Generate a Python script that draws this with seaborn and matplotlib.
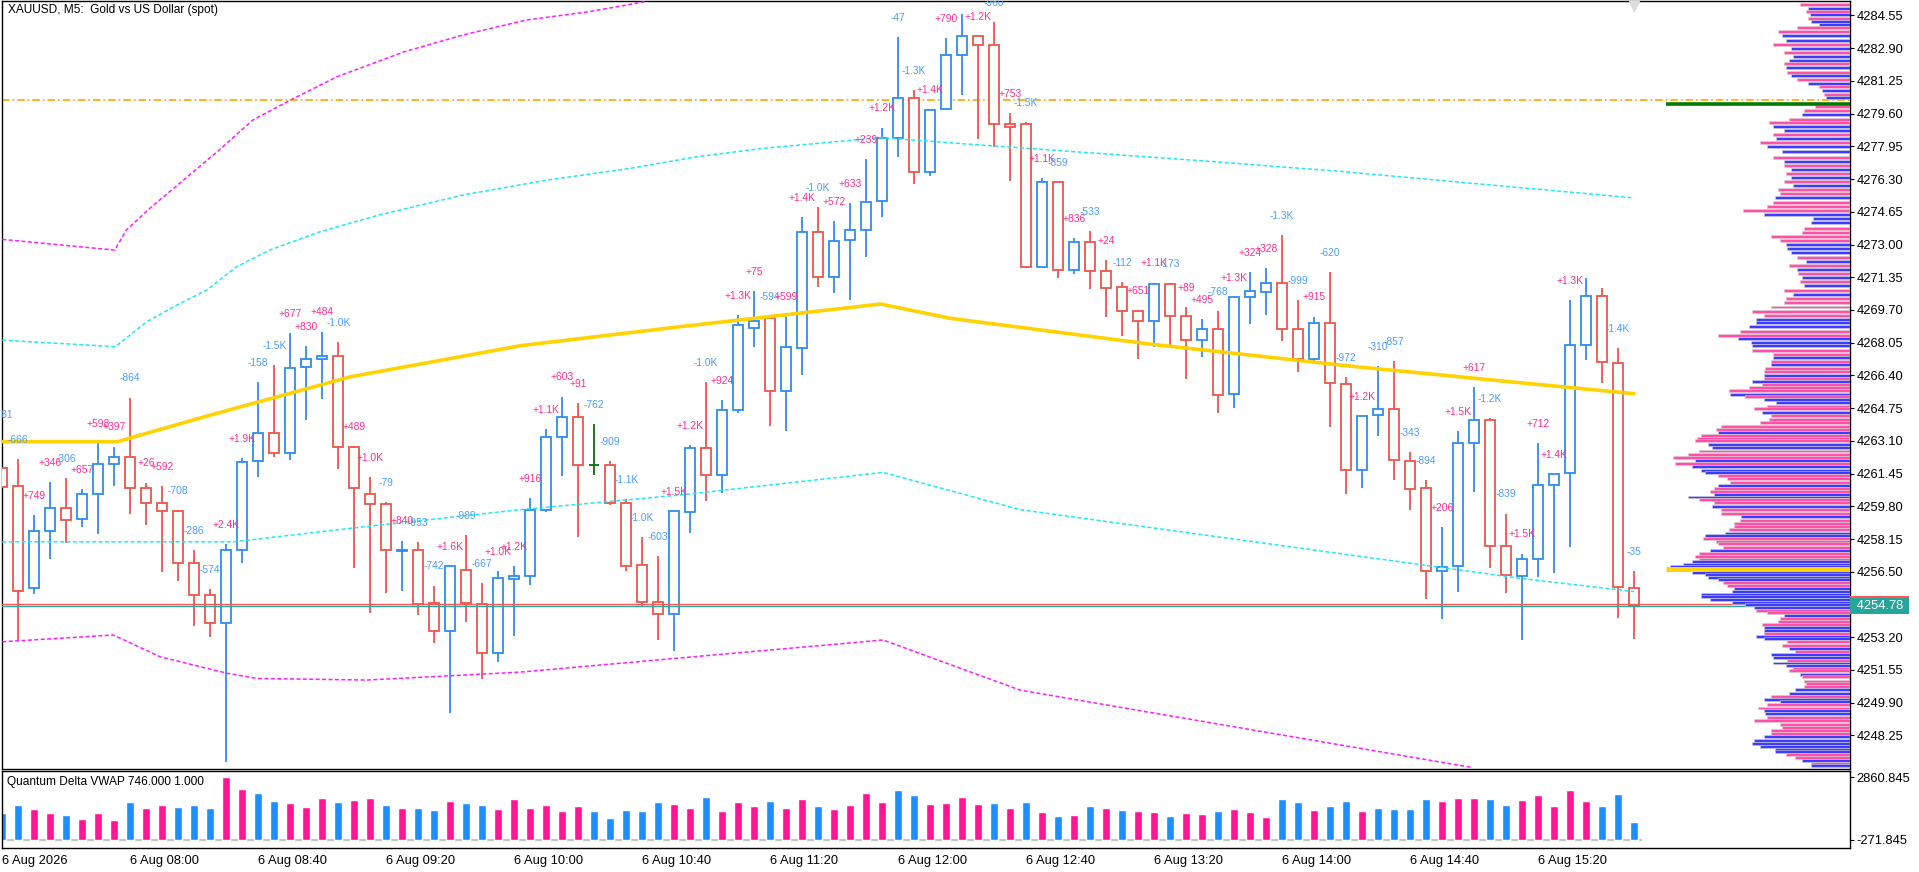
import numpy as np
import matplotlib
matplotlib.use("Agg")
import matplotlib.pyplot as plt
import seaborn as sns
from matplotlib.transforms import blended_transform_factory

sns.set_style("white")
plt.rcParams['font.family'] = ['Liberation Sans', 'DejaVu Sans']

# ---- candles, 6 Aug 07:20 .. 15:50, M5 ----
opens = [4261.71, 4260.81, 4255.66, 4258.54, 4259.70, 4259.14, 4260.40, 4261.92, 4262.27, 4260.71,
         4259.95, 4259.56, 4256.92, 4255.31, 4253.90, 4257.58, 4262.07, 4263.48, 4262.47, 4266.81,
         4267.21, 4267.36, 4262.77, 4260.40, 4259.90, 4257.55, 4257.58, 4254.91, 4253.49, 4256.57,
         4254.86, 4252.39, 4256.12, 4256.30, 4259.60, 4263.28, 4264.29, 4261.87, 4261.87, 4259.95,
         4256.82, 4254.99, 4254.35, 4259.50, 4262.72, 4261.36, 4264.64, 4268.79, 4269.28, 4265.60,
         4267.77, 4273.62, 4271.35, 4273.21, 4273.72, 4275.18, 4278.36, 4280.37, 4276.67, 4279.82,
         4282.54, 4283.51, 4283.06, 4279.06, 4279.06, 4271.88, 4276.14, 4271.70, 4273.11, 4271.65,
         4270.84, 4269.63, 4269.13, 4270.99, 4269.38, 4268.17, 4268.72, 4265.45, 4270.34, 4270.59,
         4271.04, 4268.72, 4267.21, 4269.03, 4265.95, 4261.61, 4264.39, 4264.69, 4262.07, 4260.71,
         4256.52, 4256.77, 4262.98, 4264.14, 4257.78, 4256.29, 4257.16, 4260.89, 4261.50, 4267.92,
         4270.39, 4267.05, 4255.70]
highs = [4263.44, 4262.18, 4259.34, 4261.02, 4261.23, 4260.66, 4262.98, 4262.80, 4265.27, 4260.99,
         4260.82, 4259.60, 4257.59, 4255.63, 4257.88, 4262.22, 4266.05, 4266.92, 4268.52, 4267.88,
         4268.60, 4268.08, 4262.84, 4261.26, 4260.02, 4258.06, 4258.00, 4255.79, 4256.79, 4258.34,
         4255.92, 4256.54, 4256.79, 4260.22, 4263.70, 4265.33, 4265.01, 4263.93, 4262.08, 4260.15,
         4258.25, 4257.29, 4259.56, 4262.87, 4266.07, 4265.14, 4269.45, 4270.66, 4269.39, 4269.39,
         4274.39, 4274.88, 4274.19, 4275.08, 4277.31, 4278.88, 4283.46, 4280.79, 4279.83, 4283.41,
         4284.62, 4283.51, 4284.21, 4279.62, 4279.16, 4276.35, 4276.15, 4273.31, 4273.68, 4272.22,
         4271.09, 4269.70, 4271.07, 4271.06, 4269.85, 4269.24, 4269.65, 4270.35, 4271.61, 4271.82,
         4273.46, 4270.20, 4269.36, 4271.60, 4266.30, 4264.35, 4266.87, 4267.13, 4262.54, 4261.11,
         4258.75, 4263.60, 4265.81, 4264.25, 4259.42, 4257.42, 4262.99, 4261.43, 4270.20, 4271.33,
         4270.80, 4267.77, 4256.54]
lows = [4260.37, 4252.99, 4255.39, 4257.16, 4257.96, 4258.77, 4258.42, 4260.84, 4259.43, 4258.87,
        4256.50, 4256.05, 4253.78, 4253.22, 4246.92, 4256.95, 4261.29, 4262.30, 4262.13, 4264.15,
        4265.22, 4261.69, 4256.70, 4254.43, 4255.44, 4255.54, 4254.33, 4252.89, 4249.36, 4253.98,
        4251.10, 4251.96, 4253.26, 4255.83, 4259.53, 4261.34, 4258.27, 4261.39, 4259.86, 4256.55,
        4254.74, 4253.06, 4252.52, 4258.47, 4260.08, 4260.45, 4264.52, 4267.82, 4263.86, 4263.61,
        4266.43, 4270.84, 4270.54, 4270.20, 4272.36, 4274.37, 4277.40, 4276.04, 4276.47, 4279.78,
        4280.55, 4278.34, 4277.90, 4276.22, 4271.83, 4271.87, 4271.33, 4271.53, 4270.74, 4269.36,
        4268.40, 4267.24, 4267.85, 4267.90, 4266.23, 4267.34, 4264.49, 4264.77, 4268.98, 4269.46,
        4268.15, 4266.59, 4266.97, 4263.81, 4260.43, 4260.74, 4263.36, 4261.14, 4259.61, 4255.11,
        4254.13, 4255.49, 4260.52, 4256.70, 4255.44, 4253.07, 4256.24, 4256.45, 4257.76, 4267.18,
        4266.04, 4254.18, 4253.12]
closes = [4260.75, 4255.51, 4258.55, 4259.70, 4259.09, 4260.40, 4261.92, 4262.27, 4260.71, 4259.95,
          4259.55, 4256.92, 4255.31, 4253.90, 4257.58, 4262.02, 4263.48, 4262.47, 4266.76, 4267.23,
          4267.36, 4262.77, 4260.71, 4259.90, 4257.58, 4257.59, 4254.86, 4253.49, 4256.77, 4254.91,
          4252.39, 4256.17, 4256.27, 4259.61, 4263.28, 4264.29, 4261.87, 4261.87, 4259.95, 4256.80,
          4254.99, 4254.35, 4259.55, 4262.72, 4261.36, 4264.64, 4268.94, 4269.14, 4265.60, 4267.82,
          4273.62, 4271.35, 4273.16, 4273.72, 4275.14, 4278.37, 4280.37, 4276.67, 4279.77, 4282.54,
          4283.50, 4283.05, 4279.06, 4278.91, 4271.88, 4276.14, 4271.70, 4273.11, 4271.65, 4270.79,
          4269.63, 4269.13, 4270.99, 4269.38, 4268.17, 4268.72, 4265.40, 4270.35, 4270.64, 4271.04,
          4268.72, 4267.21, 4269.03, 4266.00, 4261.61, 4264.34, 4264.72, 4262.12, 4260.69, 4256.52,
          4256.72, 4262.98, 4264.14, 4257.78, 4256.32, 4257.16, 4260.89, 4261.42, 4267.92, 4270.39,
          4267.07, 4255.75, 4254.78]

# delta text printed above each bar
deltas = ["-681", "-666", "+749", "+346", "-306", "+657", "+598", "+397", "-864", "+26",
          "+592", "-708", "-286", "-574", "+2.4K", "+1.9K", "-158", "-1.5K", "+677", "+830",
          "+484", "-1.0K", "+489", "+1.0K", "-79", "+840", "-953", "-742", "+1.6K", "-989",
          "-667", "+1.0K", "+1.2K", "+916", "+1.1K", "+603", "+91", "-762", "-909", "-1.1K",
          "-1.0K", "-603", "+1.5K", "+1.2K", "-1.0K", "+924", "+1.3K", "+75", "-594", "+599",
          "+1.4K", "-1.0K", "+572", "+633", "+239", "+1.2K", "-47", "-1.3K", "+1.4K", "+790",
          "", "+1.2K", "-960", "+753", "-1.5K", "+1.1K", "-859", "+836", "-533", "+24",
          "-112", "+651", "+1.1K", "-173", "+89", "+495", "-768", "+1.3K", "+324", "+328",
          "-1.3K", "-999", "+915", "-620", "-972", "+1.2K", "-310", "-857", "-343", "-894",
          "+206", "+1.5K", "+617", "-1.2K", "-839", "+1.5K", "+712", "+1.4K", "+1.3K", "",
          "", "-1.4K", "-35"]

# Quantum Delta VWAP histogram
vol = [1071, 1468, 1270, 1071, 971, 772, 1071, 723, 1618, 1319,
       1468, 1369, 1468, 1319, 2861, 2264, 2065, 1667, 1568, 1369,
       1816, 1618, 1717, 1816, 1468, 1319, 1319, 1220, 1667, 1568,
       1468, 1270, 1767, 1319, 1468, 1170, 1419, 1170, 822, 1220,
       1170, 1618, 1518, 1319, 1866, 1170, 1618, 1419, 1667, 1319,
       1767, 1419, 1270, 1468, 2065, 1618, 2214, 1966, 1518, 1568,
       1866, 1518, 1568, 1319, 1618, 1120, 921, 971, 1419, 1319,
       1220, 1170, 1120, 921, 1071, 1021, 1170, 1270, 1120, 872,
       1767, 1618, 1220, 1419, 1667, 1170, 1319, 1270, 1270, 1767,
       1667, 1816, 1816, 1767, 1468, 1717, 1966, 1419, 2214, 1667,
       1419, 2015, 623]
vol_side = ("bbmmbmmmbm" "mbbbmmbbmm" "mbmmbmbbmb" "bmmmmmmbbb" "bbmmbmmmbm"
            "mbmmmmbbmm" "mmbmbmbmbm" "bmmbmmbmmm" "bbmbbmbbbb" "mmmbbmmmmm" "bbb")
vol_min, vol_max = -271.845, 2860.845

# x tick labels
tick_pos = [0, 8, 16, 24, 32, 40, 48, 56, 64, 72, 80, 88, 96]
tick_lab = ["6 Aug 2026", "6 Aug 08:00", "6 Aug 08:40", "6 Aug 09:20", "6 Aug 10:00",
            "6 Aug 10:40", "6 Aug 11:20", "6 Aug 12:00", "6 Aug 12:40", "6 Aug 13:20",
            "6 Aug 14:00", "6 Aug 14:40", "6 Aug 15:20"]
price_ticks = [4284.55, 4282.90, 4281.25, 4279.60, 4277.95, 4276.30, 4274.65, 4273.00,
               4271.35, 4269.70, 4268.05, 4266.40, 4264.75, 4263.10, 4261.45, 4259.80,
               4258.15, 4256.50, 4253.20, 4251.55, 4249.90, 4248.25]

# VWAP and band vertices (bar index, price)
vwap_x = [0, 7.2, 13, 21.75, 32.4, 42.4, 54.9, 59.25, 71.75, 84.25, 94.9, 102]
vwap_y = [4263.06, 4263.06, 4264.40, 4266.33, 4267.90, 4268.86, 4270.00, 4269.28,
          4267.98, 4266.87, 4266.03, 4265.48]
up1_x = [0, 7.06, 9.04, 10.71, 12.79, 14.63, 16.71, 19.88, 23.55, 28.81, 34.06, 39.25,
         43.44, 47.56, 54.88, 61.13, 74.88, 83.63, 102]
up1_y = [4268.18, 4267.85, 4269.11, 4269.86, 4270.71, 4271.87, 4272.72, 4273.65, 4274.49,
         4275.50, 4276.25, 4276.84, 4277.43, 4277.85, 4278.39, 4278.02, 4277.23, 4276.69, 4275.35]
dn1_x = [0, 14.44, 21.75, 32.35, 42.38, 55.06, 63.63, 94.88, 102]
dn1_y = [4258.01, 4258.01, 4258.69, 4259.63, 4260.37, 4261.51, 4259.63, 4256.17, 4255.50]
up2_x = [0, 7.03, 7.75, 9.34, 11.71, 13.56, 15.66, 18.03, 20.92, 25.13, 28.81, 32.75, 36.69, 40.13]
up2_y = [4273.26, 4272.72, 4273.73, 4274.91, 4276.51, 4277.77, 4279.28, 4280.29, 4281.46,
         4282.72, 4283.57, 4284.32, 4284.74, 4285.24]
dn2_x = [0, 6.94, 9.88, 14.06, 15.94, 22.81, 32.38, 55.06, 63.63, 91.88]
dn2_y = [4252.97, 4253.31, 4252.21, 4251.38, 4251.12, 4251.04, 4251.44, 4253.06, 4250.53, 4246.63]

level_orange = 4280.29
level_green = 4280.09
poc = 4256.62
ask, bid = 4254.88, 4254.78

# volume profile rows: price, length (share of POC row), side
prof_price = [4285.12, 4284.92, 4284.75, 4284.59, 4284.40, 4284.26, 4284.09, 4283.93, 4283.72, 4283.52,
              4283.31, 4283.11, 4282.90, 4282.70, 4282.49, 4282.30, 4282.14, 4281.93, 4281.67, 4281.52,
              4281.32, 4281.11, 4280.97, 4280.76, 4280.55, 4280.39, 4279.94, 4279.77, 4279.57, 4279.32,
              4279.15, 4278.95, 4278.74, 4278.54, 4278.33, 4278.13, 4277.92, 4277.71, 4277.40, 4277.20,
              4276.99, 4276.79, 4276.58, 4276.38, 4276.17, 4275.96, 4275.76, 4275.55, 4275.35, 4275.14,
              4274.93, 4274.73, 4274.52, 4274.32, 4274.11, 4273.80, 4273.60, 4273.39, 4273.18, 4273.02,
              4272.81, 4272.61, 4272.36, 4272.16, 4271.95, 4271.74, 4271.54, 4271.33, 4271.13, 4270.92,
              4270.67, 4270.47, 4270.26, 4270.06, 4269.85, 4269.64, 4269.44, 4269.23, 4269.07, 4268.86,
              4268.60, 4268.43, 4268.25, 4268.08, 4267.90, 4267.64, 4267.47, 4267.29, 4267.12, 4266.95,
              4266.77, 4266.60, 4266.42, 4266.25, 4266.11, 4265.95, 4265.81, 4265.64, 4265.46, 4265.32,
              4265.20, 4265.03, 4264.85, 4264.71, 4264.54, 4264.36, 4264.19, 4264.02, 4263.84, 4263.67,
              4263.53, 4263.37, 4263.23, 4263.11, 4262.94, 4262.76, 4262.59, 4262.41, 4262.24, 4262.10,
              4261.98, 4261.80, 4261.63, 4261.49, 4261.33, 4261.19, 4261.02, 4260.84, 4260.70, 4260.56,
              4260.41, 4260.27, 4260.15, 4259.97, 4259.80, 4259.62, 4259.45, 4259.27, 4259.10, 4258.92,
              4258.79, 4258.63, 4258.45, 4258.31, 4258.17, 4258.05, 4257.91, 4257.74, 4257.56, 4257.44,
              4257.27, 4257.13, 4257.01, 4256.87, 4256.75, 4256.48, 4256.34, 4256.22, 4256.10, 4255.96,
              4255.82, 4255.68, 4255.51, 4255.35, 4255.23, 4255.09, 4254.97, 4254.83, 4254.69, 4254.57,
              4254.43, 4254.29, 4254.13, 4253.99, 4253.85, 4253.69, 4253.55, 4253.40, 4253.26, 4253.12,
              4252.96, 4252.79, 4252.65, 4252.47, 4252.33, 4252.19, 4252.04, 4251.90, 4251.78, 4251.64,
              4251.51, 4251.34, 4251.20, 4250.99, 4250.87, 4250.73, 4250.55, 4250.38, 4250.21, 4250.07,
              4249.94, 4249.80, 4249.63, 4249.51, 4249.33, 4249.16, 4248.99, 4248.81, 4248.67, 4248.50,
              4248.34, 4248.17, 4247.99, 4247.85, 4247.71, 4247.56, 4247.42, 4247.28, 4247.12, 4246.98,
              4246.84, 4246.72]
prof_len = [0.27, 0.23, 0.24, 0.22, 0.23, 0.21, 0.17, 0.29, 0.39, 0.37,
            0.35, 0.42, 0.32, 0.36, 0.31, 0.33, 0.36, 0.35, 0.34, 0.32,
            0.29, 0.23, 0.17, 0.15, 0.14, 0.13, 0.19, 0.25, 0.26, 0.33,
            0.44, 0.42, 0.36, 0.42, 0.40, 0.49, 0.45, 0.37, 0.42, 0.36,
            0.36, 0.32, 0.35, 0.32, 0.36, 0.31, 0.39, 0.38, 0.41, 0.42,
            0.45, 0.58, 0.47, 0.20, 0.21, 0.25, 0.26, 0.43, 0.38, 0.35,
            0.34, 0.32, 0.29, 0.24, 0.33, 0.29, 0.28, 0.26, 0.27, 0.25,
            0.36, 0.31, 0.35, 0.36, 0.43, 0.53, 0.47, 0.51, 0.51, 0.55,
            0.60, 0.72, 0.61, 0.54, 0.53, 0.53, 0.42, 0.42, 0.43, 0.43,
            0.46, 0.47, 0.47, 0.47, 0.53, 0.48, 0.55, 0.66, 0.65, 0.57,
            0.47, 0.40, 0.45, 0.52, 0.48, 0.43, 0.44, 0.49, 0.70, 0.73,
            0.72, 0.81, 0.83, 0.84, 0.77, 0.75, 0.82, 0.88, 0.96, 0.84,
            0.95, 0.86, 0.81, 0.79, 0.72, 0.67, 0.65, 0.72, 0.74, 0.76,
            0.74, 0.88, 0.82, 0.74, 0.75, 0.70, 0.70, 0.59, 0.60, 0.63,
            0.63, 0.66, 0.68, 0.79, 0.80, 0.73, 0.72, 0.69, 0.76, 0.82,
            0.84, 0.82, 0.86, 0.91, 0.98, 0.86, 0.79, 0.77, 0.72, 0.69,
            0.67, 0.63, 0.64, 0.81, 0.81, 0.76, 0.64, 0.57, 0.52, 0.51,
            0.45, 0.36, 0.38, 0.39, 0.48, 0.47, 0.47, 0.47, 0.51, 0.47,
            0.34, 0.37, 0.33, 0.30, 0.43, 0.42, 0.34, 0.42, 0.35, 0.31,
            0.33, 0.27, 0.26, 0.25, 0.24, 0.25, 0.30, 0.33, 0.43, 0.47,
            0.38, 0.45, 0.50, 0.47, 0.46, 0.45, 0.52, 0.38, 0.37, 0.43,
            0.43, 0.47, 0.52, 0.53, 0.49, 0.41, 0.41, 0.35, 0.30, 0.26,
            0.21, 0.21]
prof_side = ("pbpbpbbppb" "bpbpbbpbpb" "pbpbpbppbp" "pbbpbpbbpb" "pbpbpbppbp"
             "ppbbbppppb" "bbpbpbpbpb" "pbpppppbbb" "ppbbbppbpb" "ppbpbpppbp"
             "bbppbpppppb" "pppbbpppbpbbbppp" "bppbbppbpp" "bppppbbppp" "pbpppbbbbb"
             "bbppbbbbbbb" "bppbpppbbp" "bbppbpbbpbbp" "pbppppbbpbbp" "pbbpppppp" "bbbbbbp")

# ---- figure ----
W, H = 1919, 872
fig = plt.figure(figsize=(W / 100, H / 100), dpi=100)
left = 2.3 / W
width = (1850 - 2.3) / W
ax = fig.add_axes([left, (H - 768.5) / H, width, 767.5 / H])
axv = fig.add_axes([left, (H - 847.6) / H, width, 76.6 / H])

RED, BLUE, GREEN = "#f0534c", "#2d8cf0", "#0a6e0a"
PINK_T, BLUE_T = "#ff2f8c", "#4a9dff"

o = np.array(opens); h = np.array(highs); l = np.array(lows); c = np.array(closes)
idx = np.arange(len(o))
col = np.where(c > o, BLUE, np.where(c < o, RED, GREEN))

ax.vlines(idx, l, h, colors=col, lw=1.3, zorder=2)
ax.bar(idx, np.abs(c - o), bottom=np.minimum(o, c), width=0.62, color="white",
       edgecolor=col, linewidth=1.3, zorder=3)

for i, t in enumerate(deltas):
    if t:
        ax.text(i, h[i] + 0.98, t, color=PINK_T if t[0] == "+" else BLUE_T,
                fontsize=7.4, ha="center", va="center", clip_on=True, zorder=6)

# bands
dot = (0, (2.6, 1.6))
sns.lineplot(x=up2_x, y=up2_y, ax=ax, color="#ff1cff", lw=1.1, linestyle=dot,
             sort=False, estimator=None, zorder=4)
sns.lineplot(x=dn2_x, y=dn2_y, ax=ax, color="#ff1cff", lw=1.1, linestyle=dot,
             sort=False, estimator=None, zorder=4)
sns.lineplot(x=up1_x, y=up1_y, ax=ax, color="#22e8f5", lw=1.1, linestyle=dot,
             sort=False, estimator=None, zorder=4)
sns.lineplot(x=dn1_x, y=dn1_y, ax=ax, color="#22e8f5", lw=1.1, linestyle=dot,
             sort=False, estimator=None, zorder=4)
sns.lineplot(x=vwap_x, y=vwap_y, ax=ax, color="#ffd200", lw=2.6,
             sort=False, estimator=None, zorder=4)

# horizontal levels
ax.axhline(level_orange, color="#ffa500", lw=1.2, ls=(0, (4.5, 1.8, 1.0, 1.8)), zorder=1.5)
ax.axhline(ask, color="#ff5555", lw=1.0, zorder=4)
ax.axhline(bid, color="#2aa89a", lw=1.0, zorder=4)

# volume profile on the right
x_end, poc_start = 115.5, 104.0
plen = np.array(prof_len) * (x_end - poc_start)
pcol = ["#ff4fa6" if s == "p" else "#3c3cff" for s in prof_side]
ax.barh(prof_price, plen, left=x_end - plen, height=0.15, color=pcol,
        edgecolor="#d4d4d4", linewidth=0.4, zorder=5)
ax.hlines(poc, poc_start, x_end, color="#ffd200", lw=3.6, zorder=6)
ax.hlines(level_green, poc_start, x_end, color="#007a00", lw=2.6, zorder=6)
ax.plot([102], [4285.05], marker="v", color="#dcdcdc", ms=7, clip_on=False, zorder=7)

ax.set_xlim(0, x_end)
ax.set_ylim(4246.58, 4285.28)
ax.set_xticks([])
ax.yaxis.tick_right()
ax.set_yticks(price_ticks)
ax.set_yticklabels([f"{p:.2f}" for p in price_ticks])
ax.tick_params(axis="y", direction="out", length=3, width=0.8, pad=1.5,
               labelsize=9.3, colors="black")
for s in ax.spines.values():
    s.set_color("black")
    s.set_linewidth(1.0)
ax.set_xlabel(""); ax.set_ylabel("")

tr = blended_transform_factory(ax.transAxes, ax.transData)
ax.text(1.0015, ask, " 4254.78 ", transform=tr, fontsize=9.3, color="#ff5555",
        va="center", ha="left", zorder=7, clip_on=False,
        bbox=dict(boxstyle="square,pad=0.18", fc="#ff5555", ec="none"))
ax.text(1.0015, bid, " 4254.78 ", transform=tr, fontsize=9.3, color="white",
        va="center", ha="left", zorder=8, clip_on=False,
        bbox=dict(boxstyle="square,pad=0.18", fc="#26a69a", ec="none"))

ax.text(0.003, 0.988, "XAUUSD, M5:  Gold vs US Dollar (spot)", transform=ax.transAxes,
        fontsize=8.6, va="center", ha="left", color="black", zorder=8)

# delta histogram panel
vcol = ["#1e8fff" if s == "b" else "#ff1493" for s in vol_side]
axv.hlines(vol_min, -0.5, len(vol) - 0.5, color="#c4c4c4", lw=1.6, zorder=1)
axv.bar(idx, np.array(vol) - vol_min, bottom=vol_min, width=0.5, color=vcol, zorder=2)
axv.set_xlim(0, x_end)
axv.set_ylim(-650, 3160)
axv.yaxis.tick_right()
axv.set_yticks([vol_max, vol_min])
axv.set_yticklabels(["2860.845", "-271.845"])
axv.tick_params(axis="y", direction="out", length=3, width=0.8, pad=1.5,
                labelsize=9.3, colors="black")
axv.set_xticks(tick_pos)
axv.set_xticklabels(tick_lab)
for lab in axv.get_xticklabels():
    lab.set_horizontalalignment("left")
axv.tick_params(axis="x", direction="out", length=3.5, width=0.8, pad=1.5,
                labelsize=9.3, colors="black")
for s in axv.spines.values():
    s.set_color("black")
    s.set_linewidth(1.0)
axv.text(0.0024, 0.86, "Quantum Delta VWAP 746.000 1.000", transform=axv.transAxes,
         fontsize=8.6, va="center", ha="left", color="black")

fig.savefig("out.png", dpi=100)
